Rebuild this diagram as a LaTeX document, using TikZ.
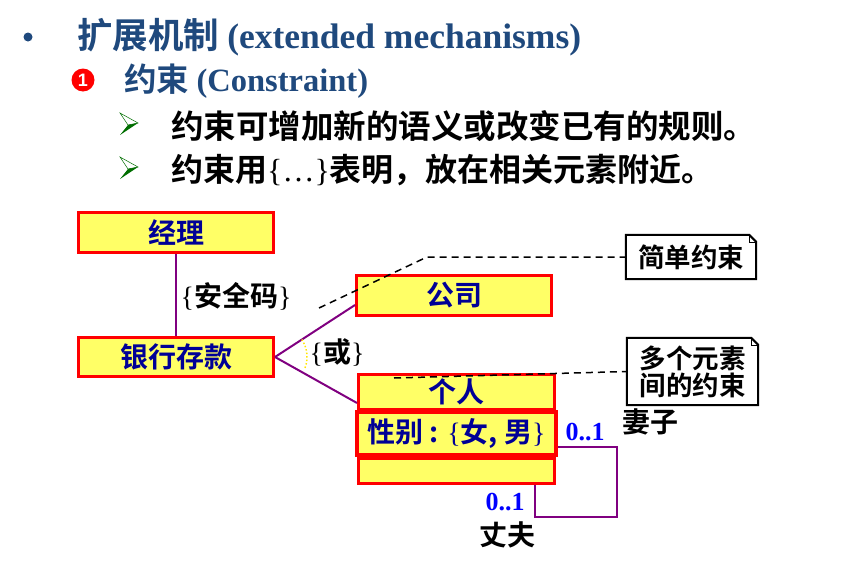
\documentclass[tikz,border=0pt]{standalone}
\usepackage{fontspec}
\setmainfont{Liberation Serif}
\newfontfamily\cjk{Noto Sans CJK SC Bold}
\newfontfamily\sansnum{Liberation Sans}
\usetikzlibrary{calc}

\definecolor{titleblue}{RGB}{31,73,125}
\definecolor{navytext}{RGB}{0,0,150}
\definecolor{boxred}{RGB}{255,0,0}
\definecolor{boxyellow}{RGB}{255,255,102}
\definecolor{linkpurple}{RGB}{128,0,128}
\definecolor{multblue}{RGB}{0,0,255}
\definecolor{dartgreen}{RGB}{0,110,0}
\definecolor{dotyellow}{RGB}{255,230,0}

% serif braces used inside Chinese constraint labels
\newcommand\lbr{{\rmfamily\mdseries\{}}
\newcommand\rbr{{\rmfamily\mdseries\}}}

\tikzset{
  classbox/.style={draw=boxred, line width=3pt, fill=boxyellow, text=navytext,
    font=\cjk\fontsize{28}{30}\selectfont, inner sep=0pt},
  assoc/.style={draw=linkpurple, line width=2pt},
  dashln/.style={draw=black, line width=1.5pt, dash pattern=on 7pt off 5pt},
  notebox/.style={fill=white, inner sep=0pt, align=center,
    font=\cjk\fontsize{26.5}{27}\selectfont},
  noteline/.style={draw=black, line width=2pt, line join=miter},
  lbl/.style={inner sep=0pt, font=\cjk\fontsize{28}{30}\selectfont},
  mult/.style={inner sep=0pt, text=multblue, font=\rmfamily\bfseries\fontsize{26}{28}\selectfont},
  dart/.pic={
    \draw[dartgreen, line width=0.5pt, fill=white] (-18,-10) -- (0,0) -- (-10,2) -- cycle;
    \fill[dartgreen] (-10,2) -- (0,0) -- (-18,12) -- cycle;
  }
}

\begin{document}
\begin{tikzpicture}[x=1pt,y=-1pt]
\useasboundingbox (0,0) rectangle (843,570);

% headings
\node[circle, fill=titleblue, minimum size=9pt, inner sep=0pt] (dot) at (28,37) {};
\node[anchor=west, inner sep=0pt, text=titleblue, font=\fontsize{35.5}{40}\selectfont]
  (title) at (77,37) {\cjk 扩展机制 \rmfamily\bfseries (extended mechanisms)};
\node[circle, fill=red, minimum size=23pt, inner sep=0pt, text=white,
  font=\sansnum\bfseries\fontsize{18}{18}\selectfont] (num) at (83,80) {1};
\node[anchor=west, inner sep=0pt, text=titleblue, font=\fontsize{32.5}{38}\selectfont]
  (sub) at (124,81) {\cjk 约束 \rmfamily\bfseries (Constraint)};
\pic at (138,123) {dart};
\pic at (138,167) {dart};
\node[anchor=west, inner sep=0pt, font=\cjk\fontsize{32.5}{38}\selectfont]
  (p1) at (171,126) {约束可增加新的语义或改变已有的规则。};
\node[anchor=west, inner sep=0pt, font=\cjk\fontsize{32}{38}\selectfont]
  (p2) at (171,170) {约束用{\rmfamily\mdseries\{…\}}表明，放在相关元素附近。};

% classes
\node[classbox, minimum width=195pt, minimum height=40pt] (jingli) at (176,232.5) {经理};
\node[classbox, minimum width=195pt, minimum height=39pt] (yinhang) at (176,357) {银行存款};
\node[classbox, minimum width=195pt, minimum height=40pt] (gongsi) at (454,295.5) {公司};
\node[classbox, minimum width=196pt, minimum height=35pt] (head) at (456.5,392) {个人};
\node[classbox, minimum width=196pt, minimum height=25pt] (ops) at (456.5,471) {};
\node[classbox, line width=4pt, minimum width=199pt, minimum height=43pt] (attr) at (456.5,433.5)
  {性别 : \lbr 女, 男\rbr};

% notes
\node[notebox, minimum width=130pt, minimum height=44pt] (note1) at (691,257) {简单约束};
\node[notebox, minimum width=131pt, minimum height=67pt] (note2) at (692.5,371.5) {多个元素\\间的约束};
\foreach \n in {note1,note2}{
  \draw[noteline] (\n.south west) -- (\n.north west) -- ([xshift=-7pt]\n.north east)
    -- ([yshift=-7pt]\n.north east) -- (\n.south east) -- cycle;
  \draw[line width=0.6pt] ([xshift=-7pt]\n.north east) -- ([xshift=-7pt,yshift=-7pt]\n.north east)
    -- ([yshift=-7pt]\n.north east);
}

% associations
\draw[assoc] (jingli.south) -- (yinhang.north);
\draw[assoc] (yinhang.east) -- ([yshift=-9.5pt]gongsi.west);
\draw[assoc] (yinhang.east) -- ([yshift=-11pt]head.west);
\draw[dotyellow, line width=1.5pt, dotted] (yinhang.east) ++(33:32pt) arc[start angle=33, end angle=-22, radius=32pt];

\coordinate (s1) at (617,447);
\coordinate (s2) at (617,517);
\coordinate (s3) at (535,517);
\draw[assoc] (attr.east |- s1) -- (s1) -- (s2) -- (s3) -- (s3 |- ops.south);

% anchors for note links
\coordinate (d1) at (319,308);
\coordinate (d2) at (427,257);
\coordinate (d3) at (394,378);
\draw[dashln] (d1) -- (d2) -- (note1.west);
\draw[dashln] (d3) -- (note2.west);

% labels
\node[lbl] (anquan) at (236,296) {\lbr 安全码\rbr};
\node[lbl] (huo) at (337,352) {\lbr 或\rbr};
\node[mult] (m1) at (585,432) {0..1};
\node[mult] (m2) at (505,502) {0..1};
\node[lbl] (qizi) at (650,422) {妻子};
\node[lbl] (zhangfu) at (507,535) {丈夫};
\end{tikzpicture}
\end{document}
